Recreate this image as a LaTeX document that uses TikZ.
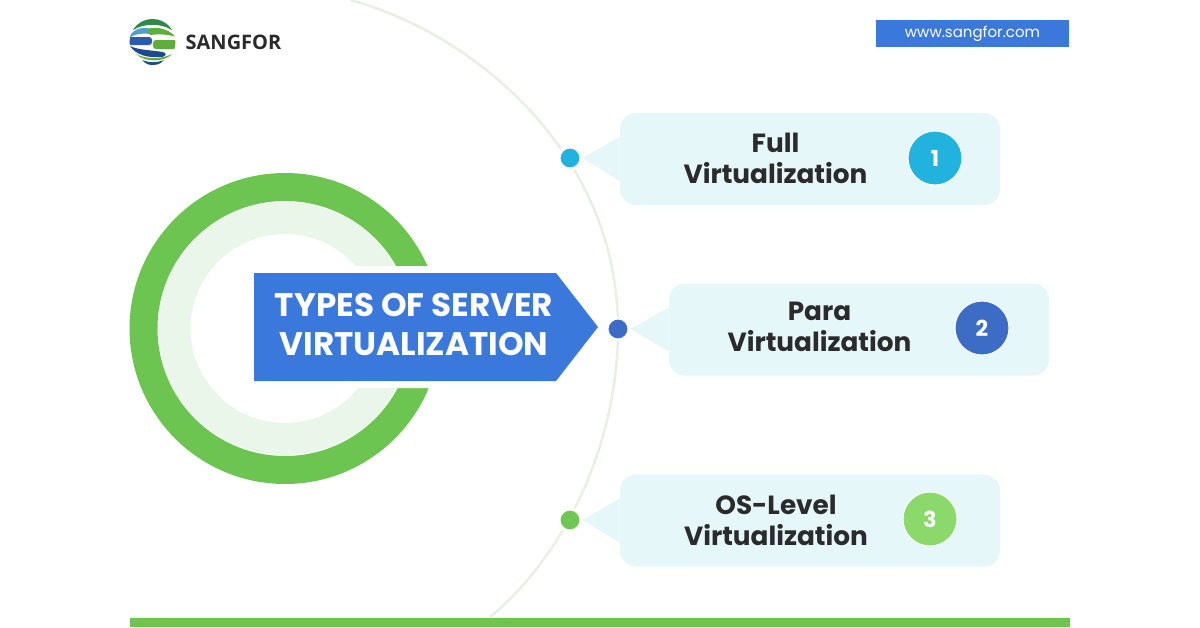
\documentclass[tikz,border=0pt]{standalone}
\usepackage{fontspec}
\setmainfont{Poppins}
\newfontfamily\logofont{Open Sans}
\definecolor{ringgreen}{HTML}{6CC551}
\definecolor{ringpale}{HTML}{E9F6E9}
\definecolor{arcgrey}{HTML}{E8F0E4}
\definecolor{headblue}{HTML}{3A78DC}
\definecolor{bubblecyan}{HTML}{E5F7F8}
\definecolor{textdark}{HTML}{2B2B2D}
\definecolor{dotcyan}{HTML}{22B2DE}
\definecolor{dotblue}{HTML}{3D6CC6}
\definecolor{dotgreen}{HTML}{6FC653}
\definecolor{numgreen}{HTML}{8BD96B}
\definecolor{logoblue}{HTML}{2A5CAA}
\definecolor{logonavy}{HTML}{1D4A8C}
\definecolor{logogreen}{HTML}{5FAE3C}
\definecolor{logodeep}{HTML}{2F8A4A}
\definecolor{logosky}{HTML}{4F9FCF}
\begin{document}
\begin{tikzpicture}[x=1pt, y=-1pt, thick,
	bubble/.style = {fill=bubblecyan, rounded corners=16pt, minimum width=380pt, minimum height=92pt, inner sep=0pt},
	label/.style = {align=center, text=textdark, font=\fontsize{26.3}{31}\selectfont\bfseries},
	dot/.style = {circle, draw=white, line width=3pt, minimum size=22pt, inner sep=0pt},
	num/.style = {circle, draw=white, line width=1pt, minimum size=54pt, inner sep=0pt, text=white, font=\fontsize{22}{24}\selectfont\bfseries}]
	\useasboundingbox (0,0) rectangle (1200,627);
	\fill[white] (0,0) rectangle (1200,627);
	% ring and arc
	\draw[arcgrey, line width=2.5pt] (350,0) .. controls (470,32) and (618,150) .. (618,329) .. controls (618,450) and (560,560) .. (490,617);
	\node[circle, draw=ringgreen, line width=28pt, minimum size=283pt, inner sep=0pt] (outer) at (285,328.5) {};
	\node[circle, draw=ringpale, line width=32pt, minimum size=221pt, inner sep=0pt] (inner) at (285,328.5) {};
	% bottom bar and web address
	\fill[ringgreen] (130,618) rectangle (1070,627);
	\node[fill=headblue, text=white, minimum width=193pt, minimum height=27pt, inner sep=0pt, font=\fontsize{15}{18}\selectfont] (web) at (972.5,33.5) {www.sangfor.com};
	% logo
	\begin{scope}
		\clip (152.5,42) circle (23);
		\fill[logodeep] (133,30) .. controls (140,14) and (165,14) .. (172,30) .. controls (160,23) and (145,23) .. cycle;
		\fill[logosky] (129,38) .. controls (132,30) and (140,26) .. (152,29) .. controls (157,30) and (157,34) .. (150,34) .. controls (142,33) and (134,34) .. cycle;
		\fill[logogreen] (147,29) .. controls (158,26) and (168,29) .. (176,37) .. controls (168,34) and (158,34) .. (150,35) -- cycle;
		\fill[logoblue, rounded corners=3pt] (128,37) rectangle (152,45);
		\fill[logogreen, rounded corners=3pt] (153,40) rectangle (177,49);
		\fill[logonavy] (130,46) .. controls (138,50) and (150,50) .. (163,52) .. controls (167,53) and (167,57) .. (160,57) .. controls (148,58) and (136,55) .. cycle;
		\fill[logogreen] (136,54) .. controls (145,59) and (160,60) .. (172,54) .. controls (165,62) and (145,63) .. cycle;
		\fill[logonavy] (142,60) .. controls (150,63) and (156,63) .. (164,60) .. controls (158,67) and (148,67) .. cycle;
	\end{scope}
	\node[text=textdark, font=\logofont\fontsize{20}{22}\selectfont\bfseries, inner sep=0pt] (logo) at (233.5,42) {SANGFOR};
	% heading
	\fill[white] (246,266) -- (559,266) -- (607,327) -- (559,388) -- (246,388) -- cycle;
	\fill[headblue] (254,273) -- (556,273) -- (598,327) -- (556,381) -- (254,381) -- cycle;
	\node[align=center, text=white, font=\fontsize{32.6}{39}\selectfont\bfseries] (head) at (414,325) {TYPES OF SERVER\\VIRTUALIZATION};
	% bubbles
	\node[bubble] (b1) at (810,159) {};
	\node[bubble] (b2) at (859,329.5) {};
	\node[bubble] (b3) at (810,520.5) {};
	\node[dot, fill=dotcyan] (d1) at (570,158) {};
	\node[dot, fill=dotblue] (d2) at (618,329) {};
	\node[dot, fill=dotgreen] (d3) at (570,520) {};
	\fill[bubblecyan] (d1.east) -- ([yshift=-22pt]b1.west) -- ([yshift=22pt]b1.west) -- cycle;
	\fill[bubblecyan] (d2.east) -- ([yshift=-22pt]b2.west) -- ([yshift=22pt]b2.west) -- cycle;
	\fill[bubblecyan] (d3.east) -- ([yshift=-22pt]b3.west) -- ([yshift=22pt]b3.west) -- cycle;
	\node[label] (t1) at (775.5,158) {Full\\Virtualization};
	\node[label] (t2) at (819.5,327) {Para\\Virtualization};
	\node[label] (t3) at (776,520) {OS-Level\\Virtualization};
	\node[num, fill=dotcyan] (n1) at (935,158) {1};
	\node[num, fill=dotblue] (n2) at (982,328) {2};
	\node[num, fill=numgreen] (n3) at (930,519) {3};
\end{tikzpicture}
\end{document}
